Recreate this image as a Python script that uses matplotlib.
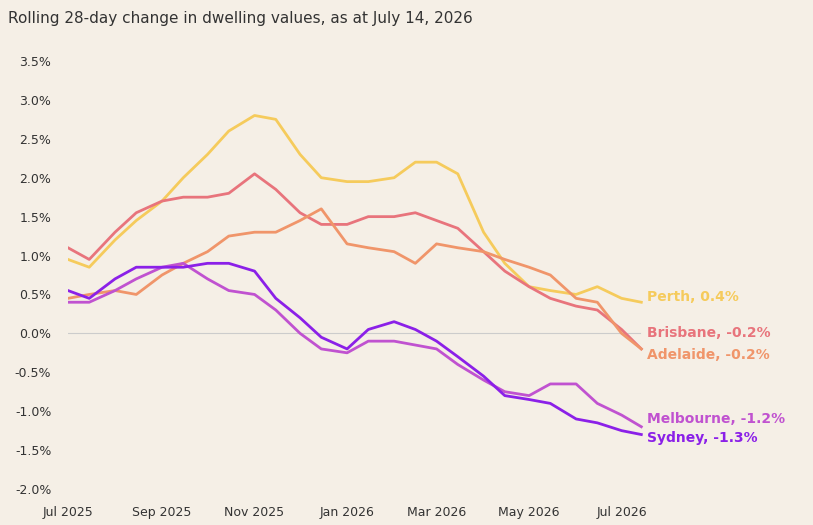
import matplotlib.pyplot as plt
import matplotlib.dates as mdates
import pandas as pd

dates = pd.to_datetime([
    "2025-07-01", "2025-07-15", "2025-08-01", "2025-08-15", "2025-09-01", "2025-09-15",
    "2025-10-01", "2025-10-15", "2025-11-01", "2025-11-15", "2025-12-01", "2025-12-15",
    "2026-01-01", "2026-01-15", "2026-02-01", "2026-02-15", "2026-03-01", "2026-03-15",
    "2026-04-01", "2026-04-15", "2026-05-01", "2026-05-15", "2026-06-01", "2026-06-15",
    "2026-07-01", "2026-07-14"])

perth = [0.95, 0.85, 1.2, 1.45, 1.7, 2.0, 2.3, 2.6, 2.8, 2.75, 2.3, 2.0,
         1.95, 1.95, 2.0, 2.2, 2.2, 2.05, 1.3, 0.9, 0.6, 0.55, 0.5, 0.6, 0.45, 0.4]
brisbane = [1.1, 0.95, 1.3, 1.55, 1.7, 1.75, 1.75, 1.8, 2.05, 1.85, 1.55, 1.4,
            1.4, 1.5, 1.5, 1.55, 1.45, 1.35, 1.05, 0.8, 0.6, 0.45, 0.35, 0.3, 0.05, -0.2]
adelaide = [0.45, 0.5, 0.55, 0.5, 0.75, 0.9, 1.05, 1.25, 1.3, 1.3, 1.45, 1.6,
            1.15, 1.1, 1.05, 0.9, 1.15, 1.1, 1.05, 0.95, 0.85, 0.75, 0.45, 0.4, 0.0, -0.2]
melbourne = [0.4, 0.4, 0.55, 0.7, 0.85, 0.9, 0.7, 0.55, 0.5, 0.3, 0.0, -0.2,
             -0.25, -0.1, -0.1, -0.15, -0.2, -0.4, -0.6, -0.75, -0.8, -0.65, -0.65, -0.9, -1.05, -1.2]
sydney = [0.55, 0.45, 0.7, 0.85, 0.85, 0.85, 0.9, 0.9, 0.8, 0.45, 0.2, -0.05,
          -0.2, 0.05, 0.15, 0.05, -0.1, -0.3, -0.55, -0.8, -0.85, -0.9, -1.1, -1.15, -1.25, -1.3]

series = [("Perth", perth, "#F5CB5C"), ("Brisbane", brisbane, "#E8747C"),
          ("Adelaide", adelaide, "#F0956A"), ("Melbourne", melbourne, "#C052D0"),
          ("Sydney", sydney, "#8B20E8")]
label_y = {"Perth": 0.47, "Brisbane": 0.0, "Adelaide": -0.28, "Melbourne": -1.1, "Sydney": -1.35}

bg = "#F5EFE6"
fig = plt.figure(figsize=(8.13, 5.25), dpi=100, facecolor=bg)
ax = fig.add_axes([68/813, 1-489/525, (658-68)/813, (489-61)/525], facecolor=bg)

for name, vals, col in series:
    ax.plot(dates, vals, color=col, lw=2)
    ax.text(dates[-1] + pd.Timedelta(days=4), label_y[name], f"{name}, {vals[-1]:.1f}%",
            color=col, fontsize=10, fontweight="bold", va="center")

ax.axhline(0, xmax=0.97, color="#cccccc", lw=0.8, zorder=0)
ax.set_ylim(-2.0, 3.5)
ax.set_yticks([v * 0.5 for v in range(-4, 8)])
ax.yaxis.set_major_formatter(plt.FuncFormatter(lambda v, p: f"{v:.1f}%"))
ax.set_xlim(pd.Timestamp("2025-07-01"), pd.Timestamp("2026-07-25"))
ax.xaxis.set_major_locator(mdates.MonthLocator(bymonth=[1, 3, 5, 7, 9, 11]))
ax.xaxis.set_major_formatter(mdates.DateFormatter("%b %Y"))
ax.tick_params(length=0, labelsize=9, colors="#333333", pad=12)
for s in ax.spines.values():
    s.set_visible(False)

fig.text(8/813, 1-18/525, "Rolling 28-day change in dwelling values, as at July 14, 2026",
         fontsize=11, color="#333333", va="center")
fig.savefig("out.png", facecolor=bg)
